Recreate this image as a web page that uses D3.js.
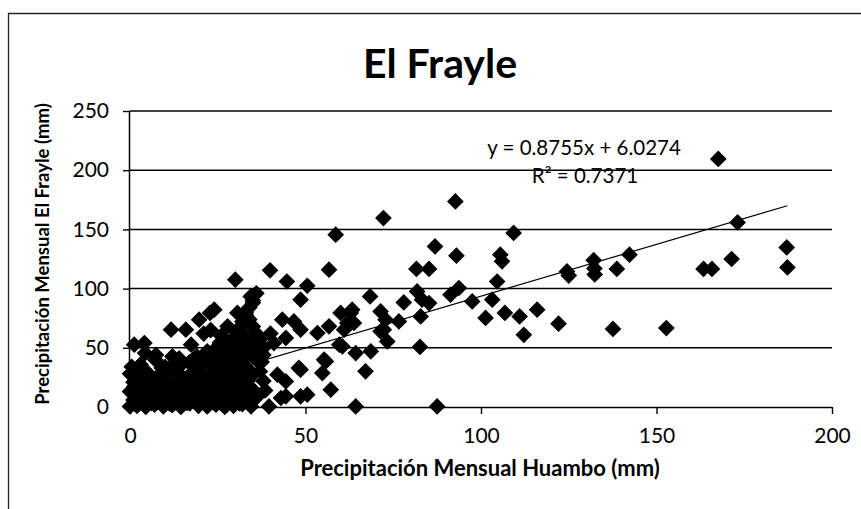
<!DOCTYPE html>
<html><head><meta charset="utf-8">
<script src="https://cdn.jsdelivr.net/npm/d3@7/dist/d3.min.js"></script>
<style>body{margin:0;background:#fff}svg{display:block}text{font-family:Lato,'Open Sans',sans-serif;fill:#000}</style>
</head><body><svg id="c" width="861" height="509"></svg>
<script>
const title = "El Frayle";
const xLabel = "Precipitación Mensual Huambo (mm)";
const yLabel = "Precipitación Mensual El Frayle (mm)";
const xTicks = [0, 50, 100, 150, 200];
const yTicks = [0, 50, 100, 150, 200, 250];
const slope = 0.8755, intercept = 6.0274;
const eqText = "y = 0.8755x + 6.0274";
const r2Text = "R² = 0.7371";

// Precipitación mensual Huambo (x, mm)
const huambo = [
 167.6,173.1,187.1,187.3,171.4,163.4,165.8,152.8,137.6,142.3,138.7,132.1,132.3,132.4,124.5,125,
 92.7,72.2,109.3,86.9,93,105.5,106,81.6,85.2,104.6,93.7,91.3,97.5,103.2,101.3,106.8,111,116,112.2,122.1,
 68.4,78,81.8,83.2,85.2,82.8,76.6,71.4,72.8,71.4,73.3,62.9,63.8,61,64.3,68.6,67.1,82.6,64.3,87.5,
 58.6,56.7,39.9,44.7,50.5,30,48.6,34.4,24,19.7,11.7,15.9,27.8,30.2,43.4,46.7,48.6,60,63.3,56.7,61.9,53.4,
 44.4,41,59.6,48.6,55.3,54.8,57.2,50.5,42,44.4,43,39.6,1.2,4.1,72.3,55.8,60.5,7.2,10,4.3,17.4,22.8,21,25.6,
 48.1,48.6,35,32.2,44.4,35,33,34,35,36,37,38,30.6,23,26,40,7.4,12.1,37,38,38.5,37.5,38,26,29,22,28,31,33,30,34,24,
 36,35,34,33,32,31,30,29,33,35,34,32,28,25,27,30,36,36,
 0,2,4.5,7,9.5,12,14.5,17,19.5,22,24.5,27,29.5,32,34.5,
 1,3.5,6,8.5,11,13.5,16,18.5,21,23.5,26,28.5,31,33.5,36,
 0,2.5,5,7.5,10,12.5,15,17.5,20,22.5,25,27.5,30,32.5,35,
 1,3.5,6,8.5,11,13.5,16,18.5,21,23.5,26,28.5,31,33.5,
 0,2.5,5,8,11,14,17,20,23,26,29,32,35,
 0.5,3,9,12,15,18,21,24,27,30,33,
 14,19,22,28,31,35,
 1.2,3.8,6.2,8.8,11.2,13.8,16.2,18.8,21.2,23.8,26.2,28.8,31.2,33.8,
 1.2,3.8,6.2,8.8,11.2,13.8,16.2,18.8,21.2,23.8,26.2,28.8,31.2,33.8,
 16,19,22,25,28,31,34,
 17,20,23,26,29,32
];
// Precipitación mensual El Frayle (y, mm)
const frayle = [
 209.5,155.9,134.8,117.9,125,116.6,116.6,66.7,65.9,128.6,116.6,124,117,112,114.5,111,
 173.6,159.6,147,135.6,127.8,128.6,123,116.6,116.6,106,100.5,94.8,89.2,90.6,75.2,79.4,76.5,82.2,61,70.4,
 93.4,88.3,97.6,90.6,87.8,76.5,72.3,80.7,73.7,63.9,55.4,79.4,71,65.3,45.6,47,30.1,50.7,0.5,0.5,
 145.5,116,115.4,106,102.4,107.5,90.6,93.4,82.2,73.7,65.3,65.3,68.1,63.9,73.7,72.3,65.3,79.4,82.2,68.1,71,62.5,
 58.3,54,52.6,31.5,40,28.7,14.6,10.4,27.3,21.6,7.6,0.5,52.6,54,65.3,38.5,51.2,40,34,45.6,52.6,79.4,62,54.3,
 33,9,14.6,20.3,9,88,80,74,68,62,57,50,79.4,65,60,62,44,42.7,30,22,14,38,44,48,44,47,52,57,50,47,44,48,
 96,90,84,78,72,66,60,55,60,56,50,46,48,44,40,40,46,40,
 0.5,1,0,2,0.5,1.5,0,3,1,0.5,2,0,1,2.5,0.5,
 6,8,5,7,9,6,8,5,7,9,6,8,7,5,8,
 13,15,14,12,16,14,13,15,12,14,16,13,15,14,12,
 21,20,22,19,23,21,20,22,24,20,21,23,19,22,
 28,27,29,26,30,28,27,29,28,30,27,29,28,
 34,36,33,35,37,34,36,35,33,36,34,
 41,43,42,44,41,43,
 3,4,3.5,4,3,4.5,3.5,4,3,4,3.5,4,3,4,
 17,18,17.5,18,17,18.5,17,18,17.5,18,17,18,17.5,18,
 24,25,24.5,25,24,25,24.5,
 38,39,38,37,39,38
];

const W = 861, H = 509;
const svg = d3.select("#c");
const x = d3.scaleLinear().domain([0, 200]).range([130, 832]);
const y = d3.scaleLinear().domain([0, 250]).range([407, 111]);

// chart border (partial, as in the scan)
svg.append("line").attr("x1", 8.5).attr("x2", 8.5).attr("y1", 13).attr("y2", H).attr("stroke", "#222").attr("stroke-width", 1.3);
svg.append("line").attr("x1", 8).attr("x2", W).attr("y1", 13.5).attr("y2", 13.5).attr("stroke", "#222").attr("stroke-width", 1.3);

// gridlines
svg.append("g").selectAll("line").data(yTicks.filter(d => d > 0)).join("line")
  .attr("x1", x(0)).attr("x2", x(200)).attr("y1", d => y(d)).attr("y2", d => y(d))
  .attr("stroke", "#000").attr("stroke-width", 1.5);

// axes
const yAxis = d3.axisLeft(y).tickValues(yTicks).tickSize(7).tickPadding(14).tickFormat(d3.format("d"));
const gy = svg.append("g").attr("transform", `translate(${x(0)},0)`).call(yAxis);
const xAxis = d3.axisBottom(x).tickValues(xTicks).tickSize(7).tickPadding(14).tickFormat(d3.format("d"));
const gx = svg.append("g").attr("transform", `translate(0,${y(0)})`).call(xAxis);
[gx, gy].forEach(g => {
  g.select(".domain").attr("stroke", "#000").attr("stroke-width", 1.5);
  g.selectAll(".tick line").attr("stroke", "#000").attr("stroke-width", 1.4);
  g.selectAll("text").attr("font-size", 21).attr("font-family", "Lato, sans-serif").attr("fill", "#000");
});
gy.select(".domain").attr("d", `M-0.5,${y(250)}V${y(0)}`);
gx.select(".domain").attr("d", `M${x(0)},0.5H${x(200)}`);

// points
const pts = huambo.map((v, i) => [v, frayle[i]]);
const diamond = d3.symbol(d3.symbolSquare, 140);
svg.append("g").selectAll("path").data(pts).join("path")
  .attr("d", diamond)
  .attr("transform", d => `translate(${x(d[0])},${y(d[1])}) rotate(45)`)
  .attr("fill", "#000");

// trend line
const xMin = d3.min(huambo), xMax = d3.max(huambo);
svg.append("line")
  .attr("x1", x(xMin)).attr("y1", y(slope * xMin + intercept))
  .attr("x2", x(xMax)).attr("y2", y(slope * xMax + intercept))
  .attr("stroke", "#000").attr("stroke-width", 1.2);

// equation
svg.append("text").attr("x", 584).attr("y", 155).attr("text-anchor", "middle").attr("font-size", 20.5).text(eqText);
svg.append("text").attr("x", 585).attr("y", 183).attr("text-anchor", "middle").attr("font-size", 20.5).text(r2Text);

// title and labels
svg.append("text").attr("x", 440).attr("y", 78).attr("text-anchor", "middle").attr("font-size", 41).attr("font-weight", 700).text(title);
svg.append("text").attr("x", 480).attr("y", 476).attr("text-anchor", "middle").attr("font-size", 22).attr("font-weight", 700).text(xLabel);
svg.append("text").attr("transform", `translate(49,254) rotate(-90)`).attr("text-anchor", "middle").attr("font-size", 18.5).attr("font-weight", 700).text(yLabel);
</script></body></html>
